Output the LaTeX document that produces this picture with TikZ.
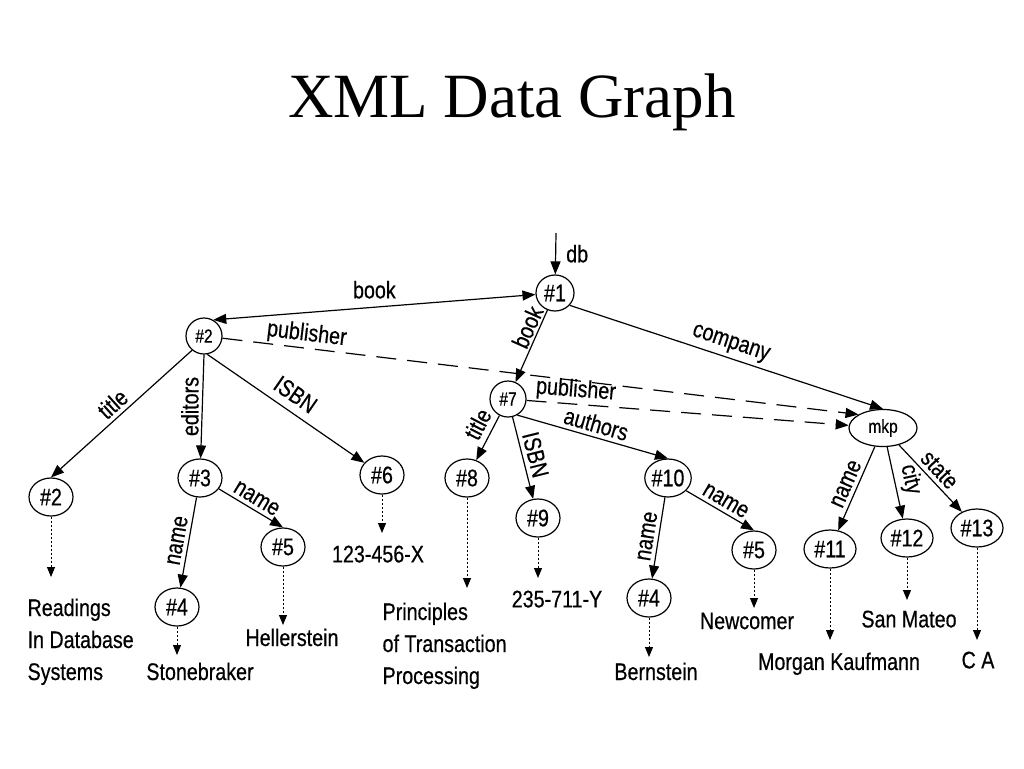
\documentclass[tikz,border=0pt]{standalone}
\usepackage{fontspec}
\setmainfont{Liberation Sans}[FakeStretch=0.82, FakeBold=0.5]
\newfontfamily\titlefont{Liberation Serif}
\usetikzlibrary{arrows.meta, shapes.geometric}

\begin{document}
\begin{tikzpicture}[x=1pt, y=-1pt, line width=1.2pt,
  >={Triangle[length=13pt,width=10pt]},
  obj/.style={ellipse, draw, inner sep=0pt, minimum width=44pt, minimum height=38pt, font=\fontsize{24}{24}\selectfont},
  wobj/.style={obj, minimum width=52pt},
  sobj/.style={obj, minimum width=36pt, minimum height=36pt, font=\fontsize{19}{19}\selectfont},
  val/.style={inner sep=0pt, anchor=north, font=\fontsize{24}{32}\selectfont},
  lbl/.style={inner sep=4pt, font=\fontsize{24}{24}\selectfont},
  ref/.style={->, dash pattern=on 20pt off 11pt},
  leaf/.style={-{Triangle[length=10pt,width=8pt]}, line width=1pt, dash pattern=on 2pt off 2pt}]
\useasboundingbox (0,0) rectangle (1024,768);

\node[font=\titlefont\fontsize{63}{63}\selectfont, anchor=base] (title) at (512,117) {XML Data Graph};

\node[obj, minimum width=38pt, minimum height=36pt] (n1) at (555,293) {\#1};
\node[sobj] (n2) at (204,336) {\#2};
\node[sobj] (n7) at (508,399) {\#7};
\node[sobj, minimum width=68pt, minimum height=37pt] (mkp) at (883,428) {mkp};
\node[obj] (t2) at (51,497) {\#2};
\node[obj] (e3) at (200,478) {\#3};
\node[obj] (e4) at (177,607) {\#4};
\node[obj] (e5) at (283,547) {\#5};
\node[obj] (i6) at (382,475) {\#6};
\node[obj] (t8) at (467,478) {\#8};
\node[obj] (i9) at (538,518) {\#9};
\node[obj, minimum width=46pt] (a10) at (668,478) {\#10};
\node[obj] (a4) at (649,598) {\#4};
\node[obj] (a5) at (754,550) {\#5};
\node[wobj] (c11) at (830,549) {\#11};
\node[wobj] (c12) at (907,538) {\#12};
\node[wobj] (c13) at (977,528) {\#13};

\node[val, anchor=north west, align=left] (v2) at (27,598) {Readings\\In Database\\Systems};
\node[val] (v4) at (200,662) {Stonebraker};
\node[val] (v5) at (292,628) {Hellerstein};
\node[val] (v6) at (378,545) {123-456-X};
\node[val, anchor=north west, align=left] (v8) at (382,602) {Principles\\of Transaction\\Processing};
\node[val] (v9) at (557,590) {235-711-Y};
\node[val] (w4) at (656,662) {Bernstein};
\node[val] (w5) at (747,612) {Newcomer};
\node[val] (w11) at (839,652) {Morgan Kaufmann};
\node[val] (w12) at (909,610) {San Mateo};
\node[val] (w13) at (978,651) {C A};

\coordinate (root) at (556,233);
\draw[->] (root) -- node[lbl, right=6pt] (ldb) {db} (n1);

\draw[<->] (n2.60) -- node[lbl, above=4pt] (lbook) {book} (n1);
\draw[->] (n1) -- node[lbl, sloped, above, pos=.3, inner sep=2pt] (lbook2) {book} (n7);
\draw[->] (n1.-40) -- node[lbl, sloped, above] (lcomp) {company} (mkp.north);
\draw[ref] (n2) -- node[lbl, sloped, above, pos=.13, inner sep=2pt] (lpub) {publisher} (mkp.north west);
\draw[ref] (n7) -- node[lbl, sloped, above, pos=.15, inner sep=2pt] (lpub2) {publisher} (mkp);

\draw[->] (n2.-130) -- node[lbl, sloped, above] (ltitle) {title} (t2.north);
\draw[->] (n2.south) -- node[lbl, above, rotate=90, inner sep=3pt] (ledit) {editors} (e3);
\draw[->] (n2.-80) -- node[lbl, sloped, above, inner sep=8pt] (lisbn) {ISBN} (i6);
\draw[->] (e3) -- node[lbl, sloped, above] (lname1) {name} (e4);
\draw[->] (e3.-30) -- node[lbl, sloped, above] (lname2) {name} (e5.north);

\draw[->] (n7) -- node[lbl, sloped, above, pos=.35, inner sep=6pt] (ltitle2) {title} (t8);
\draw[->] (n7) -- node[lbl, sloped, above] (lisbn2) {ISBN} (i9);
\draw[->] (n7.-60) -- node[lbl, sloped, above] (lauth) {authors} (a10.north);
\draw[->] (a10) -- node[lbl, sloped, above] (lname3) {name} (a4);
\draw[->] (a10.-35) -- node[lbl, sloped, above] (lname4) {name} (a5.north);

\draw[->] (mkp) -- node[lbl, sloped, above] (lname5) {name} (c11);
\draw[->] (mkp) -- node[lbl, sloped, above] (lcity) {city} (c12);
\draw[->] (mkp) -- node[lbl, sloped, above] (lstate) {state} (c13);

\draw[leaf, shorten >=21pt] (t2) -- (t2 |- v2.north);
\draw[leaf, shorten >=7pt] (e4) -- (e4 |- v4.north);
\draw[leaf, shorten >=3pt] (e5) -- (e5 |- v5.north);
\draw[leaf, shorten >=12pt] (i6) -- (i6 |- v6.north);
\draw[leaf, shorten >=14pt] (t8) -- (t8 |- v8.north);
\draw[leaf, shorten >=12pt] (i9) -- (i9 |- v9.north);
\draw[leaf, shorten >=5pt] (a4) -- (a4 |- w4.north);
\draw[leaf, shorten >=4pt] (a5) -- (a5 |- w5.north);
\draw[leaf, shorten >=12pt] (c11) -- (c11 |- w11.north);
\draw[leaf, shorten >=10pt] (c12) -- (c12 |- w12.north);
\draw[leaf, shorten >=11pt] (c13) -- (c13 |- w13.north);

\end{tikzpicture}
\end{document}
